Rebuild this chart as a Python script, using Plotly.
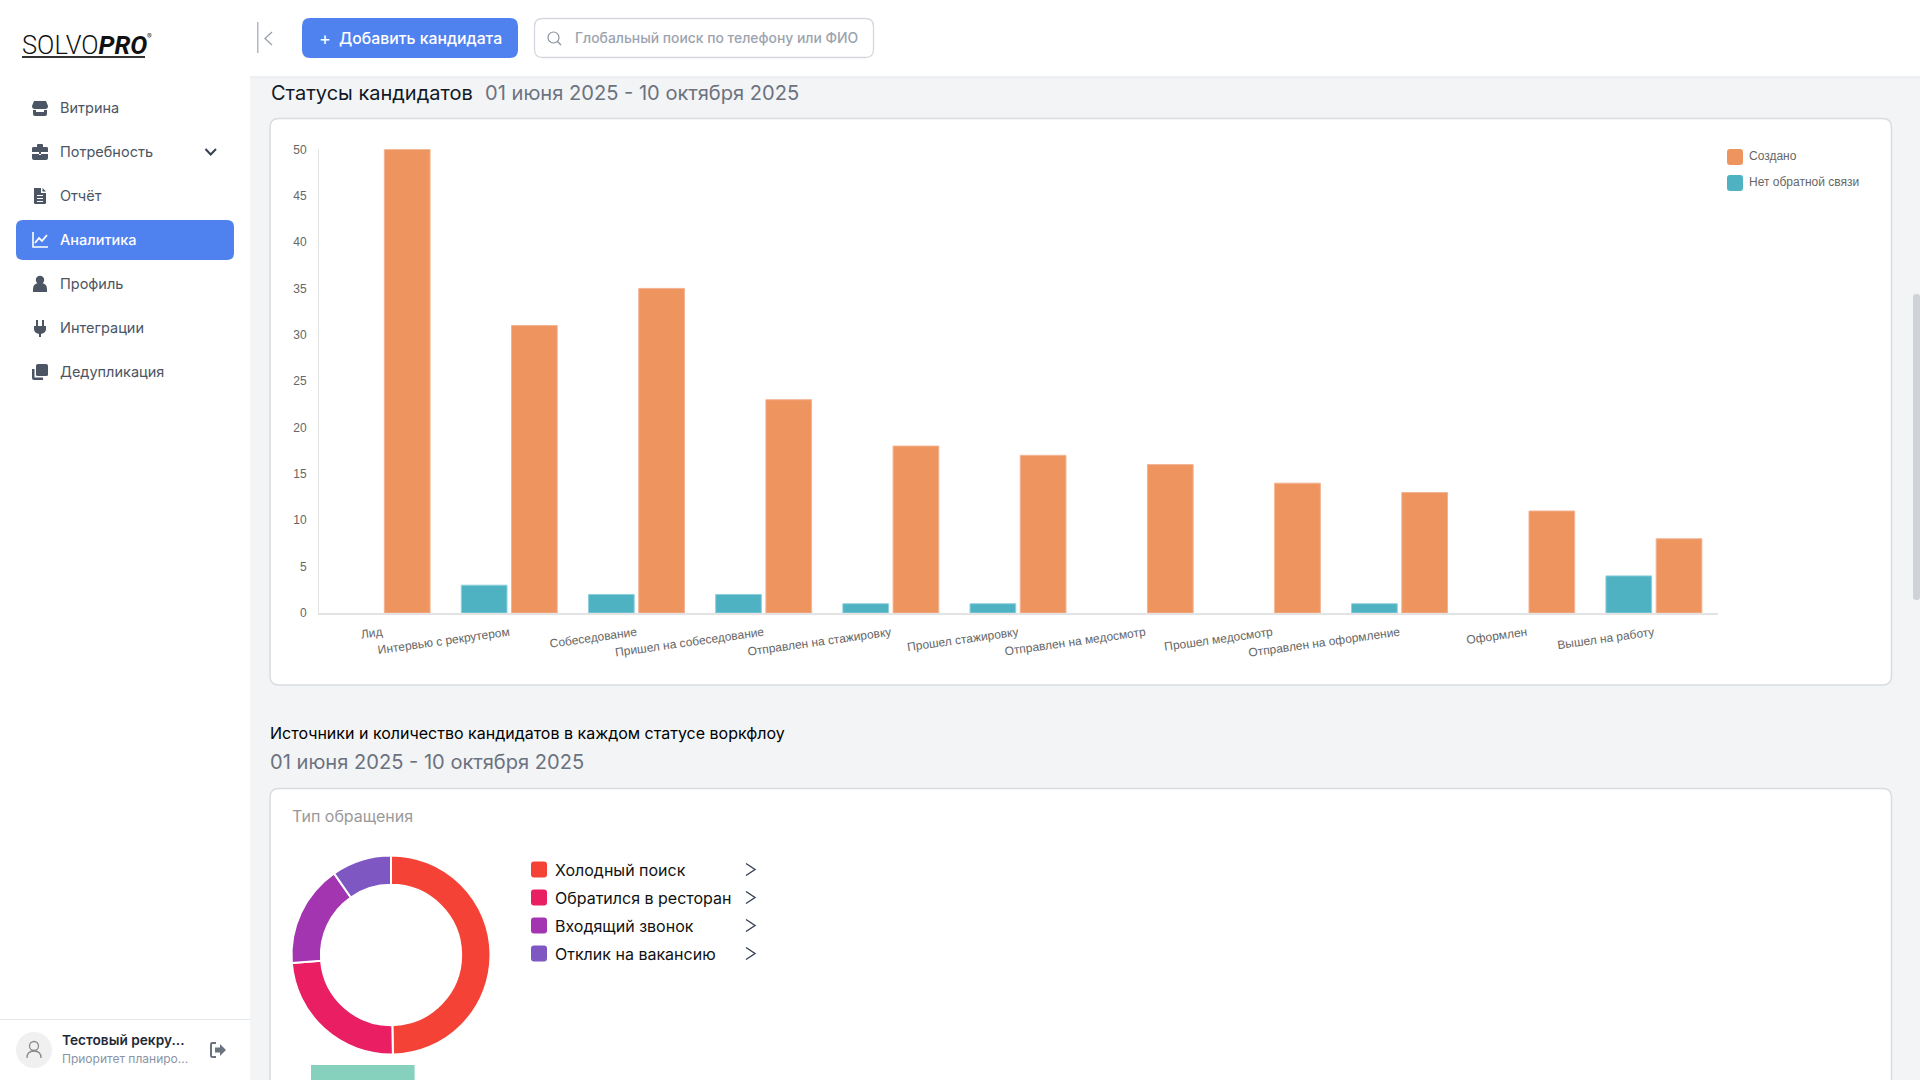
import re
import plotly.graph_objects as go

W = 1920
H = 1080

# bar chart data
statuses = ["Лид", "Интервью с рекрутером", "Собеседование", "Пришел на собеседование",
            "Отправлен на стажировку", "Прошел стажировку", "Отправлен на медосмотр",
            "Прошел медосмотр", "Отправлен на оформление", "Оформлен", "Вышел на работу"]
created = [50, 31, 35, 23, 18, 17, 16, 14, 13, 11, 8]
no_feedback = [0, 3, 2, 2, 1, 1, 0, 0, 1, 0, 4]
y_ticks = [0, 5, 10, 15, 20, 25, 30, 35, 40, 45, 50]

# donut data, shares in percent
sources = ["Холодный поиск", "Обратился в ресторан", "Входящий звонок", "Отклик на вакансию"]
source_values = [49.7, 24.0, 16.6, 9.7]
source_colors = ["#f44336", "#e91e63", "#a335b1", "#7e57c2"]

menu_items = ["Витрина", "Потребность", "Отчёт", "Аналитика", "Профиль", "Интеграции", "Дедупликация"]

ORANGE = "#ee945f"
ORANGE_EDGE = "#f3b392"
TEAL = "#4eb2c2"
TEAL_EDGE = "#8fd0da"
BLUE = "#4f81ef"
PAGE = "#f3f4f6"
BORDER = "#d9dbdf"
FONT = "Inter"
CHART_FONT = "Liberation Sans"


def px(x):
    return x / W


def py(y):
    return 1 - y / H


def to_paper(d, ox=0, oy=0):
    # turns a pixel path into paper coordinates, numbers come in x y pairs
    out = []
    is_x = True
    for tok in re.findall(r"[MLQCZ]|-?\d+\.?\d*", d):
        if tok in "MLQCZ":
            out.append(tok)
            is_x = True
        else:
            out.append(f"{px(float(tok) + ox):.5f}" if is_x else f"{py(float(tok) + oy):.5f}")
            is_x = not is_x
    return " ".join(out)


shapes = []
notes = []


def add_path(d, fill=None, line=None, width=1, ox=0, oy=0):
    shapes.append(dict(type="path", path=to_paper(d, ox, oy), xref="paper", yref="paper",
                       fillcolor=fill or "rgba(0,0,0,0)",
                       line=dict(color=line or "rgba(0,0,0,0)", width=width if line else 0),
                       layer="below"))


def add_rect(x0, y0, x1, y1, r=0, fill=None, line=None, width=1):
    d = (f"M{x0 + r} {y0} L{x1 - r} {y0} Q{x1} {y0} {x1} {y0 + r} L{x1} {y1 - r} Q{x1} {y1} {x1 - r} {y1} "
         f"L{x0 + r} {y1} Q{x0} {y1} {x0} {y1 - r} L{x0} {y0 + r} Q{x0} {y0} {x0 + r} {y0} Z")
    add_path(d, fill, line, width)


def add_circle(cx, cy, r, fill=None, line=None, width=1):
    shapes.append(dict(type="circle", xref="paper", yref="paper", x0=px(cx - r), x1=px(cx + r),
                       y0=py(cy + r), y1=py(cy - r), fillcolor=fill or "rgba(0,0,0,0)",
                       line=dict(color=line or "rgba(0,0,0,0)", width=width if line else 0),
                       layer="below"))


def add_text(x, y, s, size=15, color="#4b5563", weight=400, family=FONT, anchor="left"):
    notes.append(dict(x=px(x), y=py(y), xref="paper", yref="paper", text=s, showarrow=False,
                      xanchor=anchor, yanchor="middle", borderpad=0,
                      font=dict(size=size, color=color, family=family, weight=weight)))


# backgrounds
add_rect(0, 0, 250, H, fill="#ffffff")
add_rect(0, 0, W, 76, fill="#ffffff")
add_rect(250, 76, W, 79, fill="#eef0f3")
add_rect(0, 1019, 250, 1020, fill="#e5e7eb")
add_rect(270, 118.5, 1891.5, 685, r=9, fill="#ffffff", line=BORDER, width=1.5)
add_rect(270, 788.5, 1891.5, H + 20, r=9, fill="#ffffff", line=BORDER, width=1.5)
add_rect(1913, 294, 1920, 600, r=3, fill="#cfd3d9")

# logo
add_text(21, 45, "SOLVO<b><i>PRO</i></b>", size=25.5, color="#111111", family="Roboto", weight=300)
add_rect(22, 56, 145, 58, fill="#333333")
add_text(146, 37, "®", size=7, color="#333333")

# sidebar menu
ICON = "#4b5563"
menu_y = [107.5, 151.5, 195.5, 239.5, 283.5, 327.5, 371.5]
add_rect(16, 220, 234, 260, r=7, fill=BLUE)
for name, y in zip(menu_items, menu_y):
    active = name == "Аналитика"
    add_text(59, y, name, size=14.5, color="#ffffff" if active else "#4b5563", weight=500 if active else 400)

add_path("M-6 -7 L6 -7 L8 -2 Q8 1 5 1 L5 1 L-5 1 Q-8 1 -8 -2 Z", ICON, ox=40, oy=108)
add_path("M-7 2 L-4 2 L-4 4 L4 4 L4 2 L7 2 L7 6 Q7 8 5 8 L-5 8 Q-7 8 -7 6 Z", ICON, ox=40, oy=108)
add_path("M-8 -4 Q-8 -5 -6 -5 L-3 -5 L-3 -7 Q-3 -8 -2 -8 L2 -8 Q3 -8 3 -7 L3 -5 L6 -5 Q8 -5 8 -4 L8 0 L1 0 L1 2 "
         "L-1 2 L-1 0 L-8 0 Z", ICON, ox=40, oy=152)
add_path("M-8 2 L-1 2 L-1 3 L1 3 L1 2 L8 2 L8 6 Q8 8 6 8 L-6 8 Q-8 8 -8 6 Z", ICON, ox=40, oy=152)
add_path("M-6 -8 L1 -8 L1 -3 L6 -3 L6 7 Q6 8 5 8 L-5 8 Q-6 8 -6 7 Z", ICON, ox=40, oy=196)
add_path("M2.5 -8 L6 -4.5 L2.5 -4.5 Z", ICON, ox=40, oy=196)
for dy in [0, 3, 6]:
    add_rect(37, 195 + dy, 43, 196 + dy, fill="#ffffff")
add_path("M-7 -8 L-7 7 L8 7", None, "#ffffff", 1.6, ox=40, oy=240)
add_path("M-5 3 L-1 -2 L2 1 L7 -5", None, "#ffffff", 1.8, ox=40, oy=240)
add_circle(40, 280, 4.2, ICON)
add_path("M-7 8 L-7 5 Q-7 -1 0 -1 Q7 -1 7 5 L7 8 Z", ICON, ox=40, oy=284)
add_rect(36, 320, 38, 326, fill=ICON)
add_rect(42, 320, 44, 326, fill=ICON)
add_path("M-6 -2 L6 -2 L6 1 Q6 5 1 6 L1 9 L-1 9 L-1 6 Q-6 5 -6 1 Z", ICON, ox=40, oy=328)
add_path("M-2 -8 L6 -8 Q8 -8 8 -6 L8 3 Q8 4 6 4 L-2 4 Q-4 4 -4 3 L-4 -6 Q-4 -8 -2 -8 Z", ICON, ox=40, oy=372)
add_path("M-8 -3 L-5.5 -3 L-5.5 5.5 L3 5.5 L3 8 L-6 8 Q-8 8 -8 6 Z", ICON, ox=40, oy=372)
add_path("M205.5 149 L210.7 154.5 L216 149", None, "#374151", 2)

# header
add_rect(257, 22, 258.5, 53, fill="#b3b9c3")
add_path("M272 32 L265 38.5 L272 45", None, "#9aa1ad", 1.3)
add_rect(302, 18, 518, 58, r=8, fill=BLUE)
add_text(318, 38, "+", size=18, color="#ffffff")
add_text(337.5, 38, "Добавить кандидата", size=15.8, color="#ffffff", weight=500)
add_rect(534.5, 18.5, 873.5, 57.5, r=8, fill="#ffffff", line="#d5d8de", width=1.3)
add_circle(553.5, 37.5, 5.5, None, "#8a919c", 1.2)
add_path("M557.5 41.5 L561 45", None, "#8a919c", 1.2)
add_text(573.5, 38, "Глобальный поиск по телефону или ФИО", size=13.9, color="#9ca3af", weight=500)

# headings
add_text(269.5, 93, "Статусы кандидатов", size=20, color="#111827")
add_text(484, 93, "01 июня 2025 - 10 октября 2025", size=20.1, color="#6b7280")
add_text(269, 733, "Источники и количество кандидатов в каждом статусе воркфлоу", size=16, color="#000000")
add_text(269, 762, "01 июня 2025 - 10 октября 2025", size=20.1, color="#6b7280")
add_text(291, 816, "Тип обращения", size=16, color="#9a9a9a")

# legend of the bar chart
add_rect(1727, 149, 1743, 165, r=3, fill=ORANGE)
add_rect(1727, 175, 1743, 191, r=3, fill=TEAL)
add_text(1747.5, 156, "Создано", size=12, color="#666666", family=CHART_FONT)
add_text(1747.5, 182, "Нет обратной связи", size=12, color="#666666", family=CHART_FONT)

# legend of the donut
for i, (name, color) in enumerate(zip(sources, source_colors)):
    y = 869.5 + 28 * i
    add_rect(531, y - 8, 547, y + 8, r=3, fill=color)
    add_text(553.5, y, name, size=16, color="#111111")
    add_path(f"M746 {y - 6} L755 {y} L746 {y + 6}", None, "#374151", 1.4)

# start of the next block, cut by the window
add_rect(311, 1065, 414.6, 1082, fill="#85d1bd")

# user block
add_circle(34, 1050, 18, "#f0f0f0")
add_circle(34, 1046, 4.5, None, "#8a8a8a", 1.3)
add_path("M27 1058 Q27 1051 34 1051 Q41 1051 41 1058", None, "#8a8a8a", 1.3)
add_text(61, 1040, "Тестовый рекру...", size=13.7, color="#1f2937", weight=600)
add_text(61, 1058, "Приоритет планиро...", size=12, color="#8a94a6")
add_path("M216 1043 L212 1043 Q211 1043 211 1045 L211 1055 Q211 1057 212 1057 L216 1057", None, "#6b7280", 2)
add_path("M215 1047.5 L220 1047.5 L220 1044 L226 1050 L220 1056 L220 1052.5 L215 1052.5 Z", "#6b7280")

fig = go.Figure()
fig.add_trace(go.Bar(x=statuses, y=no_feedback, name="Нет обратной связи",
                     marker=dict(color=TEAL, line=dict(color=TEAL_EDGE, width=[1 if v else 0 for v in no_feedback]))))
fig.add_trace(go.Bar(x=statuses, y=created, name="Создано",
                     marker=dict(color=ORANGE, line=dict(color=ORANGE_EDGE, width=1))))
fig.add_trace(go.Pie(labels=sources, values=source_values, hole=0.705, sort=False, direction="clockwise",
                     rotation=0, textinfo="none",
                     marker=dict(colors=source_colors, line=dict(color="#ffffff", width=2)),
                     domain=dict(x=[px(291.5), px(490.5)], y=[py(1054.5), py(855.5)])))

fig.update_layout(
    width=W, height=H, autosize=False, showlegend=False,
    margin=dict(l=0, r=0, t=0, b=0),
    paper_bgcolor=PAGE, plot_bgcolor="rgba(0,0,0,0)",
    barmode="group", bargap=0.21, bargroupgap=0.09,
    font=dict(family=CHART_FONT, size=12, color="#666666"),
    shapes=shapes, annotations=notes,
    xaxis=dict(domain=[px(318.5), px(1717.5)], tickangle=-8, ticks="outside", ticklen=6.5, automargin=False,
               tickcolor="rgba(0,0,0,0)", showgrid=False, showline=True, linecolor="#e3e3e3",
               linewidth=1.5, tickfont=dict(size=12, color="#666666", family=CHART_FONT)),
    yaxis=dict(domain=[py(613), py(149.3)], range=[0, 50], tickvals=y_ticks, ticks="outside", ticklen=8.5,
               automargin=False, tickcolor="rgba(0,0,0,0)", showgrid=False, zeroline=False, showline=True,
               linecolor="#e3e3e3", linewidth=1, tickfont=dict(size=12, color="#666666", family=CHART_FONT)),
)

fig.write_html("out.html", config=dict(displayModeBar=False),
               post_script="document.body.style.margin='0';document.body.style.overflow='hidden';")
